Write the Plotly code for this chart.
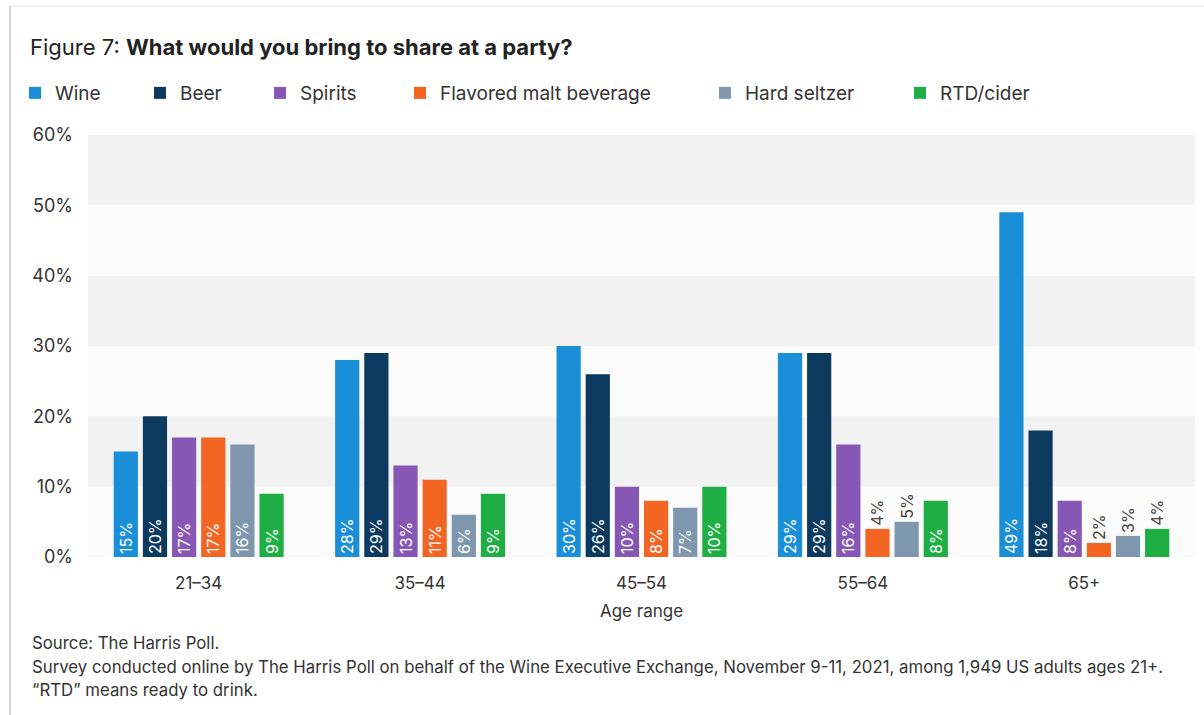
import plotly.graph_objects as go

categories = ["21–34", "35–44", "45–54", "55–64", "65+"]
series_names = ["Wine", "Beer", "Spirits", "Flavored malt beverage", "Hard seltzer", "RTD/cider"]
wine = [15, 28, 30, 29, 49]
beer = [20, 29, 26, 29, 18]
spirits = [17, 13, 10, 16, 8]
fmb = [17, 11, 8, 4, 2]
seltzer = [16, 6, 7, 5, 3]
rtd = [9, 9, 10, 8, 4]
y_ticks = [0, 10, 20, 30, 40, 50, 60]
y_tick_labels = ["0%", "10%", "20%", "30%", "40%", "50%", "60%"]
footer_lines = [
    "Source: The Harris Poll.",
    "Survey conducted online by The Harris Poll on behalf of the Wine Executive Exchange, "
    "November 9-11, 2021, among 1,949 US adults ages 21+.",
    "“RTD” means ready to drink.",
]

colors = ["#1a8fd8", "#0c3a5f", "#8757b5", "#f26522", "#7f97ae", "#1eae43"]
legend_x_px = [30, 155, 275, 415, 720, 915]
FONT = "Inter, Roboto, Arial, sans-serif"

W, H = 1204, 715
L, R, T, B = 88, 9, 135, 158

fig = go.Figure()
all_series = [wine, beer, spirits, fmb, seltzer, rtd]
for i, (name, vals) in enumerate(zip(series_names, all_series)):
    pos = ["inside" if v >= 6 else "outside" for v in vals]
    tcol = ["white" if v >= 6 else "#444444" for v in vals]
    lg = "legend" if i == 0 else f"legend{i+1}"
    fig.add_trace(go.Bar(
        x=categories, y=vals, name=name,
        marker=dict(color=colors[i], line=dict(width=0)),
        text=[f"{v}%" for v in vals],
        textposition=pos, insidetextanchor="start",
        textangle=-90, constraintext="none",
        textfont=dict(size=16, color=tcol, family=FONT),
        cliponaxis=False, legend=lg,
    ))

# alternating background bands
for lo in [10, 30, 50]:
    fig.add_shape(type="rect", xref="paper", yref="y", x0=0, x1=1, y0=lo, y1=lo + 10,
                  fillcolor="#f2f2f2", line=dict(width=0), layer="below")
for lo in [0, 20, 40]:
    fig.add_shape(type="rect", xref="paper", yref="y", x0=0, x1=1, y0=lo, y1=lo + 10,
                  fillcolor="#fbfbfb", line=dict(width=0), layer="below")

pw = W - L - R
ph = H - T - B
def px_x(p):
    return (p - L) / pw
def px_y(p):
    return (H - B - p) / ph

# card border (left and top)
fig.add_shape(type="line", xref="paper", yref="paper", x0=px_x(10), x1=px_x(10),
              y0=px_y(6), y1=px_y(715), line=dict(color="#c8c8c8", width=1.5))
fig.add_shape(type="line", xref="paper", yref="paper", x0=px_x(10), x1=px_x(1204),
              y0=px_y(6), y1=px_y(6), line=dict(color="#e0e0e0", width=1))

layout_legends = {}
for i, xp in enumerate(legend_x_px):
    key = "legend" if i == 0 else f"legend{i+1}"
    layout_legends[key] = dict(
        xref="container", yref="container", x=(xp - 15) / W, y=1 - 93 / H,
        xanchor="left", yanchor="middle", orientation="h",
        font=dict(size=19, color="#333333", family=FONT),
        bgcolor="rgba(0,0,0,0)", itemwidth=30,
    )

footer_y = [643, 667, 690]
annotations = [dict(
    text=t, xref="paper", yref="paper", x=px_x(30), y=px_y(yy),
    xanchor="left", yanchor="middle", align="left", showarrow=False,
    font=dict(size=16.8, color="#333333", family=FONT),
) for t, yy in zip(footer_lines, footer_y)]

fig.update_layout(
    width=W, height=H,
    margin=dict(l=L, r=R, t=T, b=B),
    paper_bgcolor="white", plot_bgcolor="white",
    barmode="group", bargap=0.21, bargroupgap=0.17,
    font=dict(family=FONT, color="#333333"),
    title=dict(
        text="Figure 7: <b>What would you bring to share at a party?</b>",
        x=30 / W, xanchor="left", xref="container",
        y=1 - 47 / H, yanchor="middle", yref="container",
        font=dict(size=22, color="#222222", family=FONT),
    ),
    showlegend=True,
    yaxis=dict(range=[0, 60], tickvals=y_ticks, ticktext=y_tick_labels,
               showgrid=False, zeroline=False, showline=False,
               tickfont=dict(size=18, color="#333333"), ticks="", ticklen=0,
               ticklabelstandoff=14, automargin=False),
    xaxis=dict(showgrid=False, showline=False, ticks="",
               tickfont=dict(size=17, color="#333333"), ticklabelstandoff=14,
               title=dict(text="Age range", font=dict(size=17, color="#333333"), standoff=13),
               automargin=False),
    annotations=annotations,
    **layout_legends,
)

fig.write_html("out.html")
